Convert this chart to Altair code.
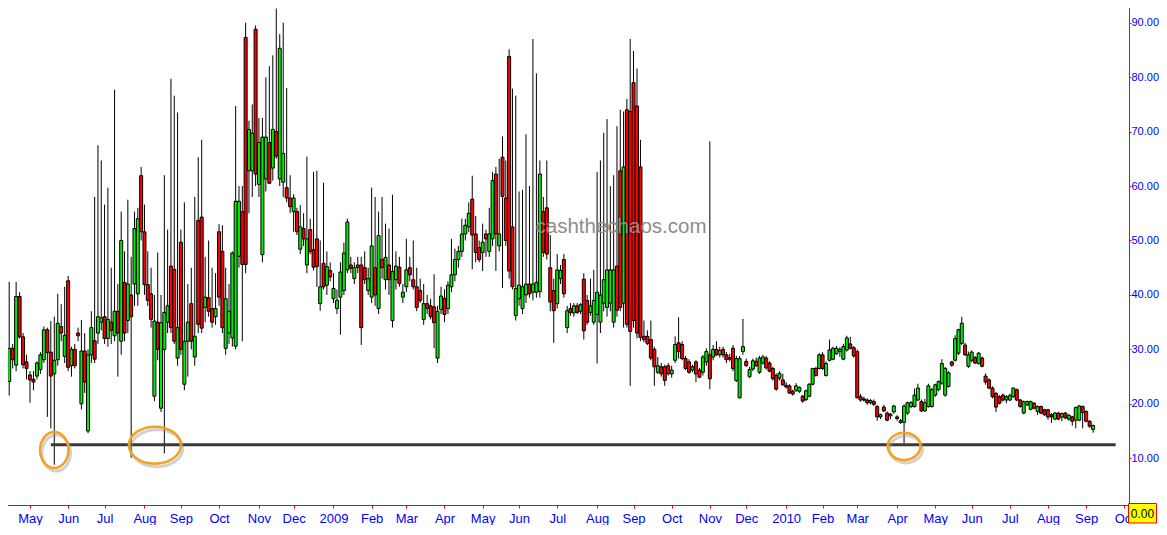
import json
import altair as alt
import pandas as pd

# Candles (open, high, low, close), one every second trading day, grouped by month
APR_2008 = [(32, 35, 27, 34), (38.5, 39.4, 28.7, 31.1), (30.5, 34.5, 29, 33.9), (24.1, 42.4, 21.5, 30.2),
            (30.2, 31, 26.5, 28.1), (27.1, 42.4, 26, 39.7), (39.7, 40.5, 32, 32.3), (32.3, 33, 26.5, 27.2),
            (27.7, 29, 24.5, 26.5)]
MAY_2008 = [(25.3, 26, 20.2, 24.4), (24.5, 26, 22.5, 24), (25.1, 27.8, 24.5, 27.5), (26.3, 29.5, 25.5, 29),
            (28.1, 34.2, 27.5, 33.6), (33.6, 34, 17.6, 29.4), (29.5, 35.2, 15.5, 25.1), (25.5, 36, 8.8, 28),
            (28.1, 40.2, 27, 34.8), (34.2, 38.3, 31.5, 33), (28.7, 41.5, 27.5, 32.6)]
JUN_2008 = [(42.6, 43.5, 26, 26.7), (27, 30.5, 25, 30), (30, 31, 26.5, 27), (33, 34, 31.5, 32.5),
            (20, 35.4, 19, 29.7), (29.7, 33, 22, 24), (15, 30, 14.6, 29), (29, 37, 27.5, 34),
            (31.6, 58, 27.5, 28.2), (33, 67.5, 31, 36), (35, 64.7, 33.5, 35.8)]
JUL_2008 = [(36, 56.6, 31, 32), (32, 59.7, 30.5, 35.5), (35, 45, 31, 33.5), (32.5, 77.7, 31.5, 37),
            (37, 42, 25, 33), (31.5, 55.3, 29, 50), (42.3, 48, 31.5, 33), (35.3, 57.5, 33, 42),
            (40, 47, 10.1, 36), (42, 55.3, 38, 52.2), (40.2, 56, 38, 54), (61.9, 63.5, 50, 51.6)]
AUG_2008 = [(51.6, 56.6, 40, 41.9), (41.9, 48, 38, 39), (40.2, 45, 34, 35.5), (21.4, 40, 20.5, 35.2),
            (35, 47.8, 28, 30), (19.2, 40, 18.5, 34.9), (30, 62, 10.9, 36.8), (35, 52, 33, 38),
            (45.3, 79.7, 33, 34), (44.7, 76.6, 31, 31.5), (28.4, 73.5, 27, 34)]
SEP_2008 = [(49.7, 52, 29, 30), (23.6, 57, 22.5, 31.5), (31.5, 42, 25, 35), (38.4, 45, 30, 31.5),
            (28.6, 58, 27, 32.4), (53.7, 65.3, 33, 34.6), (54.3, 68.5, 33, 33.9), (37.7, 47, 35, 39.6),
            (39.5, 50, 36, 37), (37.5, 45, 34, 35), (36, 44, 34.5, 37.5)]
OCT_2008 = [(51.6, 53, 38, 39.6), (48, 52.8, 33, 34), (30.2, 45, 29, 39.3), (33, 42, 31, 37),
            (32.1, 48, 30.5, 47.7), (30.6, 74.7, 30, 57.2), (47.1, 60, 45, 57.2), (55.3, 60, 31.5, 45.6),
            (87.3, 90, 44, 45.6), (62.8, 72, 55, 70.4), (62.8, 75, 58, 69.7), (88.8, 89.5, 60, 62.2)]
NOV_2008 = [(60.3, 72.5, 58, 68), (47.4, 72.5, 46, 69), (61.3, 80, 59, 69), (68, 82, 62, 60.5),
            (63.3, 84, 61, 70.4), (70, 92.6, 65, 65.5), (61.3, 87.9, 60, 85.3), (60.7, 90, 58, 66),
            (59.7, 78, 57, 57.8), (57.8, 62, 55, 56.2)]
DEC_2008 = [(55.3, 58.5, 51.6, 57.8), (55.3, 56, 51, 51.6), (48.4, 56.5, 47.5, 52.5), (52.2, 55, 49, 50.3),
            (45.5, 65.4, 44, 50.3), (52, 54, 47.5, 48), (48.3, 62.6, 44.5, 45.1), (50.3, 62.8, 41.5, 45.2),
            (38.4, 50, 37.1, 41.5), (45.8, 60.6, 41, 41.5), (41.8, 48, 40, 45.2), (44.5, 46, 42.5, 43.3)]
JAN_2009 = [(39.3, 44, 38.5, 41.2), (37.5, 41, 36.5, 39), (39.6, 46, 32.7, 44.2), (40.8, 49.6, 40, 47.7),
            (44.6, 54, 44, 53.4), (45.5, 47, 44, 44.9), (43, 46, 42, 45), (45.5, 47, 44, 45),
            (45.5, 47, 30.8, 34), (45, 48, 42, 42.8), (40.8, 45, 40, 43)]
FEB_2009 = [(39.6, 59.7, 38.5, 49), (45, 58, 38, 40), (37.5, 55.3, 36.5, 50.9), (46.5, 58, 43, 45),
            (42.8, 53.1, 41, 46.9), (45.5, 52.2, 40, 42.8), (35.3, 58.4, 34, 44.3), (42.8, 48, 41, 45.3),
            (45.1, 47, 41.5, 42.1), (39.6, 42, 38.5, 40.5)]
MAR_2009 = [(41.5, 50.3, 40.5, 44.6), (45, 47, 42.5, 43.7), (42.8, 50, 41, 41.5), (41.5, 45, 37, 37.7),
            (40.8, 43, 38.5, 39), (35.5, 42, 34.5, 38.4), (38.4, 40, 36.5, 37.5), (38, 39.3, 35.5, 36),
            (37.8, 43.8, 30.2, 34.9), (28.4, 38, 27.5, 37), (37.3, 41.5, 36.5, 39.8)]
APR_2009 = [(39.4, 41, 35, 36.4), (37.5, 42.5, 36.5, 41.8), (41.5, 50.3, 40.5, 43.7), (43.7, 48.5, 42.5, 46.5),
            (46.5, 49, 45, 48), (48, 54, 47, 51.2), (51.2, 54, 50, 52.8), (52.5, 57, 51.5, 55),
            (57.6, 61.9, 44.7, 51), (51.2, 54.5, 46, 47.8), (48.7, 50, 46, 46.5)]
MAY_2009 = [(47.8, 53.1, 44.4, 49.7), (51.2, 52, 47, 50.3), (48, 56, 47, 51.2), (50.3, 62.6, 49, 61),
            (62.2, 63.5, 44.4, 51.2), (49, 65, 48, 51.2), (65.3, 69.1, 41.3, 58.1), (57.8, 64.7, 49, 50),
            (83.8, 85.1, 43, 44.4), (52.5, 77.9, 41, 41.5), (36.2, 76.6, 35.3, 41.2)]
JUN_2009 = [(39.3, 59, 38, 41.8), (37.5, 59.3, 36.5, 41.5), (40, 69.5, 38.5, 42), (42, 60, 39.5, 40.2),
            (40.5, 87, 39, 42), (40.5, 80.7, 39.5, 42.3), (40.6, 64.7, 39.5, 62.2), (55.3, 58, 47, 47.8),
            (56, 64.7, 46.5, 47.5), (45, 51, 37, 38.7), (40.8, 43, 31.2, 37.1)]
JUL_2009 = [(38.4, 47.5, 37.5, 44.6), (43, 45.5, 42, 44.5), (46.5, 47.5, 39.5, 40.2), (34, 38, 33, 37.1),
            (37.5, 38.5, 36.2, 36.8), (36.7, 38.5, 36, 38), (38, 38.5, 36.5, 36.8), (37, 38.5, 36.5, 38.2),
            (42.9, 44, 31.8, 33.4), (39, 40, 34.5, 35), (36.8, 43, 36.2, 38), (35, 44.6, 34.5, 39)]
AUG_2009 = [(36.4, 62.6, 27.4, 40.5), (35, 64.7, 33, 40), (38.5, 69.8, 37, 42.8), (37.7, 72.3, 36, 44.6),
            (38.5, 60, 37, 44.6), (35, 62, 34, 44.6), (45.3, 71, 36, 37.2), (62.8, 74, 37, 37.7),
            (38.5, 73.7, 34, 63.5), (74, 76, 34, 34.6), (73.7, 87, 23.3, 33.3)]
SEP_2009 = [(79, 84.8, 34, 35.3), (74.7, 81.6, 32, 33), (63.5, 68.5, 31.5, 32.2), (32.4, 35.3, 31.3, 31.8),
            (32.4, 33.5, 30.8, 31.1), (31.8, 35.3, 28, 28.4), (30, 30.5, 23.3, 26.8), (25.8, 28.6, 25.5, 27),
            (26.8, 27.5, 25, 25.5), (26.8, 27.2, 23.3, 24.3), (27, 27.5, 25.2, 25.5)]
OCT_2009 = [(25.5, 27, 24.8, 26.2), (28, 32.4, 27.5, 30.9), (31.2, 35.9, 28.3, 29.6), (30.9, 31.5, 28, 28.3),
            (28.3, 28.8, 26.2, 26.5), (27.7, 28.2, 25.5, 25.8), (26.2, 27.2, 25.8, 26.8), (27.7, 28, 24, 25.5),
            (26.2, 26.6, 24.7, 24.9), (25.8, 29, 25.2, 28.6), (27.7, 30.2, 27, 29.6)]
NOV_2009 = [(29, 68.2, 22.7, 24.6), (28.6, 30.8, 28, 30), (30, 31.5, 28.8, 29), (29, 30.5, 28.5, 29.8),
            (30, 30.5, 28.5, 29), (29, 29.5, 27.5, 28.1), (28.5, 29.2, 27.8, 28.2), (30.2, 30.8, 26, 26.5),
            (24.3, 28.8, 24, 28.3), (21.1, 28.8, 21, 28.3), (29.6, 35.6, 29, 30.5)]
DEC_2009 = [(27.8, 28.3, 26.8, 27), (25, 26.8, 24.7, 26.3), (26.4, 28.3, 26, 27.9), (27.8, 28.5, 26.8, 27),
            (25.8, 28.8, 25.5, 28.4), (27.5, 29, 27.2, 28.6), (28.4, 28.8, 26.3, 26.6), (27.5, 27.8, 25.8, 26),
            (26.5, 26.8, 24.3, 24.6), (25.2, 25.6, 22.4, 22.7), (24.7, 26, 24.3, 25.6), (24.4, 25.5, 23.3, 23.5)]
JAN_2010 = [(23.4, 24, 22.8, 23.1), (23.3, 23.6, 21.8, 22), (22.3, 22.6, 21.5, 21.8), (22.5, 23.8, 22.2, 23.3),
            (22.3, 23.2, 22, 23), (21.4, 21.6, 20.2, 20.5), (20.8, 22.6, 20.5, 22.4), (21.4, 23.8, 21.2, 23.6),
            (23.6, 26.6, 23.4, 26.5), (26.5, 26.8, 25, 25.2), (26.5, 29.3, 26.3, 29)]
FEB_2010 = [(29, 29.5, 26.2, 26.5), (25.2, 27.8, 25, 27.4), (28, 31.8, 27.8, 29.9), (28.2, 30.5, 28, 30.2),
            (29.2, 30.6, 29, 30.2), (29.6, 30.4, 28.6, 30), (28.2, 31, 28, 30.5), (29.9, 32.5, 29.6, 32.1),
            (31, 32.3, 30, 30.2), (30.3, 30.6, 28.5, 28.8)]
MAR_2010 = [(29.6, 30, 21, 21.1), (21.3, 21.8, 20.4, 20.7), (20.9, 21.3, 20.4, 20.7), (20.7, 21, 19.8, 20.2),
            (20.2, 20.9, 19.9, 20.6), (20.4, 20.8, 19.6, 19.9), (19.5, 19.8, 16.9, 17.6), (17.6, 18.2, 17.2, 18),
            (19.4, 19.8, 18.5, 18.7), (18.3, 18.6, 16.8, 17), (17.8, 18.3, 17.2, 18.1), (18.5, 19.8, 18.2, 19.6)]
APR_2010 = [(17.6, 17.9, 16.9, 17.3), (16.6, 17.2, 16.3, 16.9), (16.6, 19.9, 12.75, 19.6), (18.3, 20.4, 18, 20.2),
            (19.5, 20.5, 19.2, 20.2), (19.5, 22.8, 19.3, 21.6), (20.7, 23.7, 20.5, 22.9), (20.4, 20.8, 18.5, 18.7),
            (18.7, 20.9, 18.5, 20.2), (19.5, 23.7, 19.3, 23.3), (19.5, 22.9, 19.3, 22.6)]
MAY_2010 = [(21.6, 23.7, 21.3, 23.5), (22.6, 24.3, 22.3, 24.1), (23.8, 28.2, 23.5, 27.4), (21.6, 26.8, 21.3, 26.5),
            (23.2, 26, 23, 25.7), (27.7, 27.9, 26.8, 27.1), (28, 32.6, 27.8, 32), (29.3, 33.8, 29, 33.6),
            (31.1, 36, 30.8, 34.8), (30.8, 31.2, 28.8, 29), (26.9, 29.6, 26.6, 29)]
JUN_2010 = [(28, 29.8, 27.6, 29.5), (28.5, 28.8, 27.3, 27.5), (27.4, 29.5, 27.2, 29.3), (28.4, 28.7, 26.7, 26.9),
            (25.1, 25.6, 23.5, 24), (24.4, 24.7, 22.7, 22.9), (22.9, 23.2, 21, 21.3), (21.9, 22.2, 18.5, 19.4),
            (21.3, 21.6, 19.9, 20.1), (21.6, 21.9, 20.4, 20.7), (20.7, 21.6, 20.1, 21.3)]
JUL_2010 = [(20.7, 21.9, 20.5, 21.5), (21.3, 23, 21.1, 22.9), (22.6, 22.8, 20.5, 20.7), (20.7, 20.9, 19.3, 19.5),
            (18.3, 20.6, 18.1, 20.4), (19.8, 20.6, 19.6, 20.4), (19, 20.6, 18.8, 20.4), (20.1, 20.3, 19, 19.2),
            (18.6, 19.7, 18, 19.5), (19.5, 19.7, 18.1, 18.3), (18.9, 19.1, 17.8, 18)]
AUG_2010 = [(18.9, 19.1, 17.1, 17.6), (18, 18.3, 16.5, 17.6), (17.2, 18.5, 17, 18.3), (18.3, 18.5, 17, 17.2),
            (17.6, 18.4, 16.8, 18.2), (18.3, 18.5, 17.2, 17.4), (17.2, 18.1, 16.9, 17.9), (17.6, 17.8, 16, 16.8),
            (17, 19.5, 15.5, 19.3), (17, 19.8, 16.8, 19.6), (19.5, 19.7, 15.5, 18.4)]
SEP_2010 = [(18.6, 18.8, 16.6, 16.8), (16.8, 17, 15.6, 15.9), (15.3, 16.2, 14.7, 16)]

MONTHS = [("2008-04", APR_2008), ("2008-05", MAY_2008), ("2008-06", JUN_2008), ("2008-07", JUL_2008),
          ("2008-08", AUG_2008), ("2008-09", SEP_2008), ("2008-10", OCT_2008), ("2008-11", NOV_2008),
          ("2008-12", DEC_2008), ("2009-01", JAN_2009), ("2009-02", FEB_2009), ("2009-03", MAR_2009),
          ("2009-04", APR_2009), ("2009-05", MAY_2009), ("2009-06", JUN_2009), ("2009-07", JUL_2009),
          ("2009-08", AUG_2009), ("2009-09", SEP_2009), ("2009-10", OCT_2009), ("2009-11", NOV_2009),
          ("2009-12", DEC_2009), ("2010-01", JAN_2010), ("2010-02", FEB_2010), ("2010-03", MAR_2010),
          ("2010-04", APR_2010), ("2010-05", MAY_2010), ("2010-06", JUN_2010), ("2010-07", JUL_2010),
          ("2010-08", AUG_2010), ("2010-09", SEP_2010)]

SUPPORT_LEVEL = 12.5
SUPPORT_FROM = "2008-05-19"
SUPPORT_TO = "2010-09-24"
CIRCLED = [("2008-05-21", 11.5, 28.4, 36.0), ("2008-08-11", 12.4, 52.0, 37.0), ("2010-04-07", 12.2, 32.7, 27.3)]
WATERMARK = "cashthechaos.com"
LAST_VALUE = "0.00"
Y_TICKS = [10, 20, 30, 40, 50, 60, 70, 80, 90]

# ---- trading-day index ----
dates = pd.bdate_range("2008-04-07", "2010-10-29")
keys = list(dates.strftime("%Y-%m"))
first, ndays = {}, {}
for i, k in enumerate(keys):
    first.setdefault(k, i)
    ndays[k] = ndays.get(k, 0) + 1
pos_of = {d.strftime("%Y-%m-%d"): i for i, d in enumerate(dates)}

rows = []
for k, candles in MONTHS:
    step = min(2.0, ndays[k] / len(candles))
    for j, (o, h, l, c) in enumerate(candles):
        rows.append({"t": first[k] + j * step, "open": o, "high": h, "low": l, "close": c})
df = pd.DataFrame(rows)

tick_vals, tick_labs = [], []
for k in sorted(first):
    if "2008-05" <= k <= "2010-10":
        ts = pd.Timestamp(k + "-01")
        tick_vals.append(first[k])
        tick_labs.append(ts.strftime("%Y") if ts.month == 1 else ts.strftime("%b"))
label_expr = f"{json.dumps(tick_labs)}[indexof({json.dumps(tick_vals)}, datum.value)]"

FONT = "Liberation Sans"
RED, BLUE = "#FF0000", "#0000FF"
XS = alt.Scale(domain=[0.7, 651.7], nice=False, zero=False, padding=0)
YS = alt.Scale(domain=[1.42, 94.17], nice=False, zero=False, padding=0)
XAX = alt.Axis(values=tick_vals, labelExpr=label_expr, domainColor=RED, tickColor=RED, tickSize=3,
               labelColor=BLUE, labelFont=FONT, labelFontSize=13, labelPadding=14,
               labelBaseline="alphabetic", grid=False, title=None, labelOverlap=False, labelFlush=False)
YAX = alt.Axis(orient="right", values=Y_TICKS, format=".2f", domainColor=RED, tickColor=RED, tickSize=2,
               labelColor=BLUE, labelFont=FONT, labelFontSize=11, labelPadding=0, grid=False,
               title=None, labelOverlap=False, labelFlush=False)


def X(f):
    return alt.X(f"{f}:Q", scale=XS, axis=XAX)


def Y(f):
    return alt.Y(f"{f}:Q", scale=YS, axis=YAX)


wicks = alt.Chart(df).mark_rule(color="black", strokeWidth=1).encode(x=X("t"), y=Y("low"), y2="high")
bodies = alt.Chart(df).mark_bar(size=3, stroke="black", strokeWidth=1).encode(
    x=X("t"), y=Y("open"), y2="close",
    fill=alt.condition("datum.close > datum.open", alt.value("#00EE00"), alt.value("#FF0000")))

sup = pd.DataFrame({"t0": [pos_of[SUPPORT_FROM]], "t1": [pos_of[SUPPORT_TO]], "v": [SUPPORT_LEVEL]})
support = alt.Chart(sup).mark_rule(color="#383838", strokeWidth=3).encode(x=X("t0"), x2="t1", y=Y("v"))

layers = [wicks, bodies, support]
for d, v, w, h in CIRCLED:
    r = h / w
    path = f"M -1 0 A 1 {r:.4f} 0 1 0 1 0 A 1 {r:.4f} 0 1 0 -1 0 Z"
    e = pd.DataFrame({"t": [pos_of[d]], "v": [v]})
    layers.append(alt.Chart(e).mark_point(shape=path, size=w * w, filled=False, stroke="#9a9a9a",
                                          strokeWidth=3, opacity=0.45, xOffset=2, yOffset=3)
                  .encode(x=X("t"), y=Y("v")))
    layers.append(alt.Chart(e).mark_point(shape=path, size=w * w, filled=False, stroke="#F5A01E",
                                          strokeWidth=2.5, opacity=1).encode(x=X("t"), y=Y("v")))

one = pd.DataFrame({"a": [0]})
layers.append(alt.Chart(one).mark_text(text=WATERMARK, font=FONT, fontSize=20.5, color="#8c8c8c",
                                       align="center", baseline="alphabetic")
              .encode(x=alt.value(621), y=alt.value(233)))
layers.append(alt.Chart(one).mark_rect(fill="#FFFF00", stroke=RED, strokeWidth=1)
              .encode(x=alt.value(1128.5), x2=alt.value(1156.5), y=alt.value(503.5), y2=alt.value(523)))
layers.append(alt.Chart(one).mark_text(text=LAST_VALUE, font=FONT, fontSize=12, color="#000000",
                                       align="center", baseline="alphabetic")
              .encode(x=alt.value(1142.5), y=alt.value(518)))

chart = alt.layer(*layers).properties(
    width=1129, height=505,
    autosize=alt.AutoSizeParams(type="none"),
    padding={"left": -8, "top": -8, "right": 30, "bottom": 20},
    background="white",
).configure_view(stroke=None)

chart.save("out.html", embed_options={"renderer": "svg", "actions": False})
